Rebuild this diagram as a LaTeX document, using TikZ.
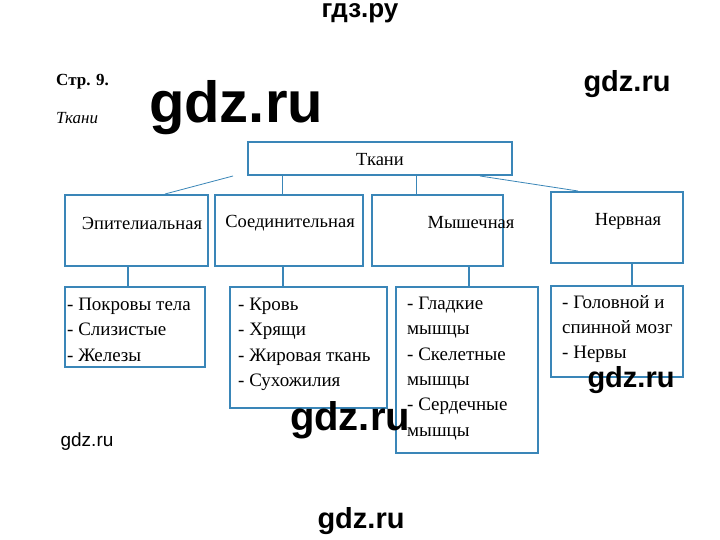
\documentclass[tikz,border=0pt]{standalone}
\usepackage{fontspec}
\setmainfont{Liberation Serif}
\newfontfamily\wm{Liberation Sans}
\definecolor{bx}{HTML}{3A86B8}
\begin{document}
\begin{tikzpicture}[x=1pt,y=-1pt,
  bxs/.style={draw=bx,line width=2.4pt},
  thin/.style={draw=bx,line width=0.8pt},
  tf/.style={font=\fontsize{18.5}{25}\selectfont,inner sep=0pt},
  lbl/.style={font=\fontsize{19}{25.3}\selectfont,anchor=north west,align=left,inner sep=0pt},
  wmk/.style={font=\wm\bfseries\fontsize{#1}{#1}\selectfont,inner sep=0pt}]
\useasboundingbox (0,0) rectangle (720,540);
\fill[white] (0,0) rectangle (720,540);
% top
\draw[bxs] (248,142) rectangle (512,175);
\node[tf] (t) at (380,160) {Ткани};
\coordinate (t1) at (233,176); \coordinate (t2) at (282,176);
\coordinate (t3) at (416,176); \coordinate (t4) at (480,176);
% row 1
\draw[bxs] (65,195) rectangle (208,266);
\draw[bxs] (215,195) rectangle (363,266);
\draw[bxs] (372,195) rectangle (503,266);
\draw[bxs] (551,192) rectangle (683,263);
\node[tf] (a) at (142,223) {Эпителиальная};
\node[tf] (b) at (290,223) {Соединительная};
\node[tf] (c) at (471,223) {Мышечная};
\node[tf] (d) at (628,221) {Нервная};
\coordinate (a0) at (165,194); \coordinate (b0) at (282,194);
\coordinate (c0) at (416,194); \coordinate (d0) at (578,191);
\draw[thin] (t1)--(a0); \draw[thin] (t2)--(b0); \draw[thin] (t3)--(c0); \draw[thin] (t4)--(d0);
% row 2
\draw[bxs] (65,287) rectangle (205,367);
\draw[bxs] (230,287) rectangle (387,408);
\draw[bxs] (396,287) rectangle (538,453);
\draw[bxs] (551,286) rectangle (683,377);
\draw[bxs] (128,266)--(128,287);
\draw[bxs] (283,266)--(283,287);
\draw[bxs] (469,266)--(469,287);
\draw[bxs] (632,263)--(632,286);
\node[lbl] (a1) at (67,298) {- Покровы тела\\- Слизистые\\- Железы};
\node[lbl] (b1) at (238,298) {- Кровь\\- Хрящи\\- Жировая ткань\\- Сухожилия};
\node[lbl] (c1) at (407,297) {- Гладкие\\мышцы\\- Скелетные\\мышцы\\- Сердечные\\мышцы};
\node[lbl] (d1) at (562,295) {- Головной и\\спинной мозг\\- Нервы};
% headings
\node[anchor=west,font=\bfseries\fontsize{17}{20}\selectfont,inner sep=0pt] (h1) at (56,82) {Стр. 9.};
\node[anchor=west,font=\itshape\fontsize{17}{20}\selectfont,inner sep=0pt] (h2) at (56,118) {Ткани};
% watermarks
\node[wmk=26] (w0) at (360,13) {гдз.ру};
\node[wmk=58] (w1) at (236,108) {gdz.ru};
\node[wmk=29] (w2) at (627,84) {gdz.ru};
\node[wmk=29] (w3) at (631,380) {gdz.ru};
\node[wmk=40] (w4) at (350,420) {gdz.ru};
\node[font=\wm\fontsize{19}{19}\selectfont,inner sep=0pt] (w5) at (87,442) {gdz.ru};
\node[wmk=29] (w6) at (361,521) {gdz.ru};
\end{tikzpicture}
\end{document}
